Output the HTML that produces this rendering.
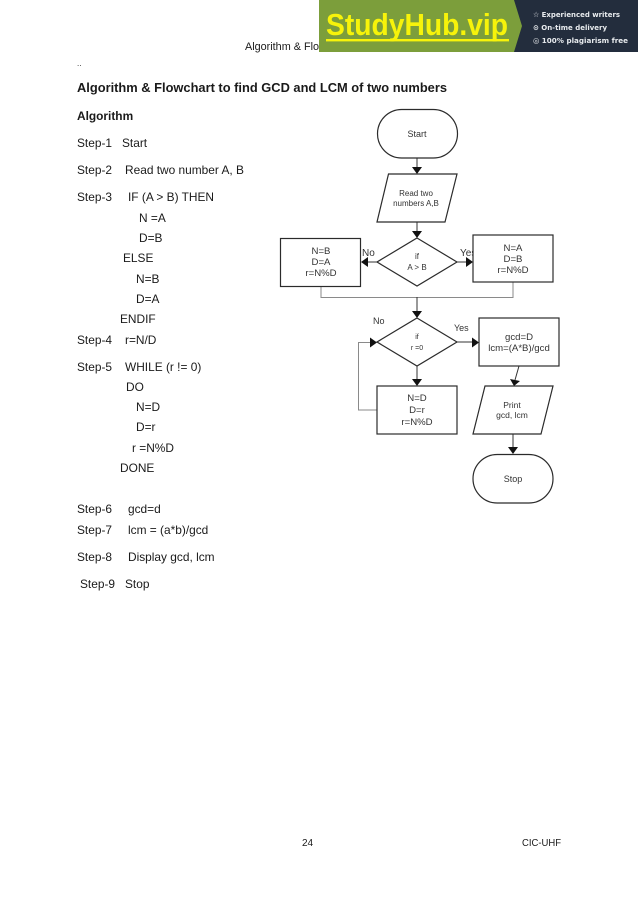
<!DOCTYPE html>
<html lang="en">
<head>
<meta charset="utf-8">
<title>Algorithm &amp; Flowchart to find GCD and LCM of two numbers</title>
<style>
html,body{margin:0;padding:0;background:#fff;}
svg{display:block;}
text{font-family:"Liberation Sans",sans-serif;fill:#1a1a1a;}
.b{font-size:11.9px;}
.t{font-weight:bold;}
.f{font-size:9.6px;text-anchor:middle;fill:#333;}
.s{font-size:8px;text-anchor:middle;fill:#333;}
.x{font-size:7px;text-anchor:middle;fill:#333;}
.l{font-size:9px;fill:#333;}
.shape{fill:#fff;stroke:#2b2b2b;stroke-width:1.2;}
.g{fill:none;stroke:#8a8a8a;stroke-width:1;}
.k{fill:none;stroke:#333;stroke-width:1;}
.a{fill:#111;}
.bn{font-size:7.4px;font-weight:bold;fill:#e8ebee;font-family:"DejaVu Sans",sans-serif;}
</style>
</head>
<body>
<svg xmlns="http://www.w3.org/2000/svg" width="638" height="902" viewBox="0 0 638 902">
<rect width="638" height="902" fill="#fff"/>

<!-- Header -->
<text x="245" y="50" font-size="10.6" textLength="74" lengthAdjust="spacingAndGlyphs">Algorithm &amp; Flo</text>
<text x="77" y="66" font-size="8">..</text>

<!-- Banner -->
<rect x="319" y="0" width="319" height="52" fill="#7c9e3b"/>
<polygon points="514,0 638,0 638,52 514,52 522,26" fill="#232d3d"/>
<text x="326" y="35" font-size="31" font-weight="bold" style="fill:#f7f30a" textLength="182" lengthAdjust="spacingAndGlyphs">StudyHub.vip</text>
<rect x="326" y="39" width="183" height="2.4" fill="#f7f30a"/>
<text class="bn" x="533" y="17" textLength="87" lengthAdjust="spacingAndGlyphs">☆ Experienced writers</text>
<text class="bn" x="533" y="30" textLength="74" lengthAdjust="spacingAndGlyphs">⊙ On-time delivery</text>
<text class="bn" x="533" y="43" textLength="95" lengthAdjust="spacingAndGlyphs">◎ 100% plagiarism free</text>

<!-- Left text -->
<text class="t" x="77" y="92" font-size="13" textLength="370" lengthAdjust="spacingAndGlyphs">Algorithm &amp; Flowchart to find GCD and LCM of two numbers</text>
<text class="b t" x="77" y="120">Algorithm</text>
<text class="b" x="77" y="147">Step-1</text><text class="b" x="122" y="147">Start</text>
<text class="b" x="77" y="174">Step-2</text><text class="b" x="125" y="174">Read two number A, B</text>
<text class="b" x="77" y="201">Step-3</text><text class="b" x="128" y="201">IF (A &gt; B) THEN</text>
<text class="b" x="139" y="222">N =A</text>
<text class="b" x="139" y="242">D=B</text>
<text class="b" x="123" y="262">ELSE</text>
<text class="b" x="136" y="283">N=B</text>
<text class="b" x="136" y="303">D=A</text>
<text class="b" x="120" y="323">ENDIF</text>
<text class="b" x="77" y="344">Step-4</text><text class="b" x="125" y="344">r=N/D</text>
<text class="b" x="77" y="371">Step-5</text><text class="b" x="125" y="371">WHILE (r != 0)</text>
<text class="b" x="126" y="391">DO</text>
<text class="b" x="136" y="411">N=D</text>
<text class="b" x="136" y="431">D=r</text>
<text class="b" x="132" y="452">r =N%D</text>
<text class="b" x="120" y="472">DONE</text>
<text class="b" x="77" y="513">Step-6</text><text class="b" x="128" y="513">gcd=d</text>
<text class="b" x="77" y="534">Step-7</text><text class="b" x="128" y="534">lcm = (a*b)/gcd</text>
<text class="b" x="77" y="561">Step-8</text><text class="b" x="128" y="561">Display gcd, lcm</text>
<text class="b" x="80" y="588">Step-9</text><text class="b" x="125" y="588">Stop</text>

<!-- Connectors -->
<path class="g" d="M321 286V297.500H513V282"/>
<path class="g" d="M377 410H358.500V342.500H370"/>
<path class="k" d="M417 158V168M417 222V232M377 262H368M457 262H466M417 297V312M457 342H473M417 366V380M519 366L515 380M513 434V448"/>
<polygon class="a" points="412,167 422,167 417,174"/>
<polygon class="a" points="412,231 422,231 417,238"/>
<polygon class="a" points="368,257 368,267 361,262"/>
<polygon class="a" points="466,257 466,267 473,262"/>
<polygon class="a" points="412,311 422,311 417,318"/>
<polygon class="a" points="370,337.500 370,347.500 377,342.500"/>
<polygon class="a" points="472,337.500 472,347.500 479,342.500"/>
<polygon class="a" points="412,379 422,379 417,386"/>
<polygon class="a" points="510,379 520,381 514,386"/>
<polygon class="a" points="508,447 518,447 513,454"/>

<!-- Labels beneath boxes -->
<text class="l" x="362" y="256" style="font-size:10px">No</text>
<text class="l" x="460" y="256" style="font-size:10px">Yes</text>
<text class="l" x="373" y="324">No</text>
<text class="l" x="454" y="331">Yes</text>

<!-- Shapes -->
<rect class="shape" x="377.500" y="109.500" width="80" height="48.500" rx="24.200"/>
<text class="s" x="417" y="137" style="font-size:9px">Start</text>

<polygon class="shape" points="388.500,174 457,174 445,222 377,222"/>
<text class="s" x="416" y="196">Read two</text>
<text class="s" x="416" y="206">numbers A,B</text>

<polygon class="shape" points="417,238 457,262 417,286 377,262"/>
<text class="s" x="417" y="259">if</text>
<text class="s" x="417" y="270">A &gt; B</text>

<rect class="shape" x="280.500" y="238.500" width="80" height="48"/>
<text class="f" x="321" y="254">N=B</text>
<text class="f" x="321" y="265">D=A</text>
<text class="f" x="321" y="276">r=N%D</text>

<rect class="shape" x="473" y="235" width="80" height="47"/>
<text class="f" x="513" y="251">N=A</text>
<text class="f" x="513" y="262">D=B</text>
<text class="f" x="513" y="273">r=N%D</text>

<polygon class="shape" points="417,318 457,342 417,366 377,342"/>
<text class="x" x="417" y="339">if</text>
<text class="x" x="417" y="350">r =0</text>

<rect class="shape" x="479" y="318" width="80" height="48"/>
<text class="f" x="519" y="340">gcd=D</text>
<text class="f" x="519" y="351">lcm=(A*B)/gcd</text>

<rect class="shape" x="377" y="386" width="80" height="48"/>
<text class="f" x="417" y="401">N=D</text>
<text class="f" x="417" y="413">D=r</text>
<text class="f" x="417" y="425">r=N%D</text>

<polygon class="shape" points="485,386 553,386 541,434 473,434"/>
<text class="s" x="512" y="408" style="font-size:8.500px">Print</text>
<text class="s" x="512" y="418" style="font-size:8.500px">gcd, lcm</text>

<rect class="shape" x="473" y="454.500" width="80" height="48.500" rx="24.200"/>
<text class="s" x="513" y="482" style="font-size:9px">Stop</text>

<!-- Footer -->
<text x="302" y="846" font-size="10">24</text>
<text x="522" y="846" font-size="10" textLength="39" lengthAdjust="spacingAndGlyphs">CIC-UHF</text>
</svg>
</body>
</html>
